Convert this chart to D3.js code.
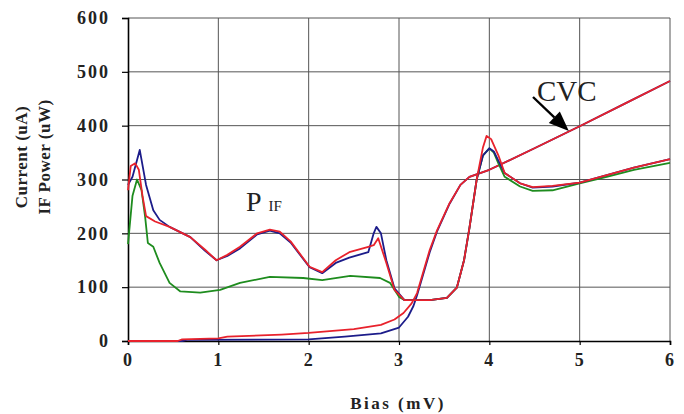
<!DOCTYPE html>
<html>
<head>
<meta charset="utf-8">
<script src="https://cdn.jsdelivr.net/npm/d3@7"></script>
<style>
  body { margin: 0; background: #fff; }
  text { font-family: "Liberation Serif", "DejaVu Serif", serif; }
</style>
</head>
<body>
<svg id="chart"></svg>
<script>
// IF power curves (uW) vs bias (mV)
const pifRedX = [0, 0.03, 0.08, 0.12, 0.16, 0.2, 0.3, 0.46, 0.69, 0.85, 0.98, 1.1, 1.24, 1.43, 1.57, 1.68, 1.8, 2.01, 2.15, 2.3, 2.45, 2.66, 2.72, 2.77, 2.86, 2.95, 3.06, 3.2, 3.34, 3.53, 3.64, 3.72, 3.78, 3.86, 3.93, 3.97, 4.02, 4.1, 4.17, 4.34, 4.48, 4.7, 5.0, 5.3, 5.6, 6.0];
const pifRed  = [280, 325, 330, 318, 270, 232, 222, 212, 193, 170, 150, 160, 175, 200, 207, 203, 185, 138, 128, 150, 165, 175, 178, 191, 145, 95, 76, 76, 76, 80, 99, 150, 210, 300, 360, 381, 375, 345, 312, 293, 286, 288, 294, 308, 322, 338];

const pifBlueX = [0, 0.05, 0.13, 0.2, 0.28, 0.35, 0.46, 0.69, 0.85, 0.98, 1.1, 1.24, 1.43, 1.57, 1.68, 1.8, 2.01, 2.15, 2.3, 2.45, 2.66, 2.72, 2.75, 2.8, 2.86, 2.95, 3.06, 3.2, 3.34, 3.53, 3.64, 3.72, 3.78, 3.86, 3.93, 4.0, 4.05, 4.1, 4.17, 4.34, 4.48, 4.7, 5.0, 5.3, 5.6, 6.0];
const pifBlue  = [290, 305, 355, 290, 243, 225, 212, 193, 168, 150, 158, 172, 198, 205, 200, 183, 137, 126, 145, 155, 165, 200, 212, 200, 150, 98, 76, 76, 76, 80, 99, 150, 210, 300, 345, 358, 352, 335, 312, 293, 285, 287, 294, 308, 322, 338];

const pifGreenX = [0, 0.05, 0.1, 0.15, 0.19, 0.22, 0.28, 0.35, 0.46, 0.58, 0.8, 1.02, 1.24, 1.57, 1.94, 2.15, 2.46, 2.79, 2.9, 3.0, 3.06, 3.2, 3.34, 3.53, 3.64, 3.72, 3.78, 3.86, 3.93, 4.0, 4.05, 4.1, 4.17, 4.34, 4.48, 4.7, 5.0, 5.3, 5.6, 6.0];
const pifGreen  = [180, 270, 300, 280, 230, 182, 175, 145, 108, 92, 90, 95, 108, 119, 117, 113, 121, 117, 108, 82, 76, 76, 76, 80, 99, 150, 210, 300, 345, 358, 350, 330, 305, 287, 279, 280, 293, 305, 318, 331];

// current-voltage curves (uA)
const cvcRedX = [0, 0.55, 0.6, 1.0, 1.1, 1.7, 2.0, 2.5, 2.8, 2.95, 3.05, 3.14, 3.2, 3.34, 3.42, 3.56, 3.68, 3.78, 4.0, 4.5, 5.0, 5.5, 6.0];
const cvcRed  = [0, 0, 3, 5, 8, 12, 15, 22, 30, 40, 52, 70, 89, 169, 205, 256, 290, 305, 318, 358, 399, 441, 483];

const cvcBlueX = [0, 0.6, 0.65, 2.0, 2.4, 2.8, 3.0, 3.1, 3.16, 3.2, 3.34, 3.42, 3.56, 3.68, 3.78, 4.0, 4.5, 5.0, 5.5, 6.0];
const cvcBlue  = [0, 0, 2, 3, 8, 14, 25, 45, 65, 85, 165, 203, 255, 290, 305, 318, 358, 399, 441, 483];

const xTicks = [0, 1, 2, 3, 4, 5, 6];
const yTicks = [0, 100, 200, 300, 400, 500, 600];

const w = 684, h = 414;
const margin = {left: 128, right: 14, top: 18, bottom: 73};

const svg = d3.select("#chart").attr("width", w).attr("height", h);

const x = d3.scaleLinear().domain([0, 6]).range([margin.left, w - margin.right]);
const y = d3.scaleLinear().domain([0, 600]).range([h - margin.bottom, margin.top]);

// grid
svg.append("g").selectAll("line").data(xTicks.slice(1)).enter().append("line")
  .attr("x1", d => x(d)).attr("x2", d => x(d))
  .attr("y1", y(0)).attr("y2", y(600))
  .attr("stroke", "#555").attr("stroke-width", 1);
svg.append("g").selectAll("line").data(yTicks.slice(1)).enter().append("line")
  .attr("x1", x(0)).attr("x2", x(6))
  .attr("y1", d => y(d)).attr("y2", d => y(d))
  .attr("stroke", "#555").attr("stroke-width", 1);

// axes
const xAxis = svg.append("g")
  .attr("transform", "translate(0," + y(0) + ")")
  .call(d3.axisBottom(x).tickValues(xTicks).tickSize(4).tickPadding(8).tickFormat(d3.format("d")));
const yAxis = svg.append("g")
  .attr("transform", "translate(" + x(0) + ",0)")
  .call(d3.axisLeft(y).tickValues(yTicks).tickSize(6).tickPadding(12).tickFormat(d3.format("d")));

[xAxis, yAxis].forEach(a => {
  a.select(".domain").attr("stroke", "#000").attr("stroke-width", 1.6);
  a.selectAll(".tick line").attr("stroke", "#000").attr("stroke-width", 1.2);
  a.selectAll("text")
    .attr("font-family", "'Liberation Serif', serif")
    .attr("font-weight", "bold")
    .attr("font-size", 18)
    .attr("letter-spacing", 2)
    .attr("fill", "#222");
});

// curves
const line = d3.line().x(d => x(d[0])).y(d => y(d[1]));
const zip = (xs, ys) => xs.map((v, i) => [v, ys[i]]);

const series = [
  {xs: cvcBlueX, ys: cvcBlue, color: "#1c1c8a"},
  {xs: cvcRedX, ys: cvcRed, color: "#e8222c"},
  {xs: pifGreenX, ys: pifGreen, color: "#1e8c1e"},
  {xs: pifBlueX, ys: pifBlue, color: "#1c1c8a"},
  {xs: pifRedX, ys: pifRed, color: "#e8222c"}
];

svg.append("g").selectAll("path").data(series).enter().append("path")
  .attr("d", d => line(zip(d.xs, d.ys)))
  .attr("fill", "none")
  .attr("stroke", d => d.color)
  .attr("stroke-width", 1.8)
  .attr("stroke-linejoin", "round");

// axis titles
svg.append("text")
  .attr("transform", "translate(27,157) rotate(-90)")
  .attr("text-anchor", "middle")
  .attr("font-weight", "bold").attr("font-size", 17).attr("letter-spacing", 0.5)
  .attr("fill", "#222")
  .text("Current (uA)");
svg.append("text")
  .attr("transform", "translate(50,157) rotate(-90)")
  .attr("text-anchor", "middle")
  .attr("font-weight", "bold").attr("font-size", 17).attr("letter-spacing", 0.5)
  .attr("fill", "#222")
  .text("IF Power (uW)");
svg.append("text")
  .attr("x", 398).attr("y", 409)
  .attr("text-anchor", "middle")
  .attr("font-weight", "bold").attr("font-size", 17).attr("letter-spacing", 2.5)
  .attr("fill", "#222")
  .text("Bias (mV)");

// annotations
const pif = svg.append("text").attr("x", 246).attr("y", 211).attr("fill", "#222");
pif.append("tspan").attr("font-size", 28).text("P");
pif.append("tspan").attr("font-size", 15).attr("dx", 7).text("IF");

svg.append("text")
  .attr("x", 537).attr("y", 101)
  .attr("font-size", 29).attr("fill", "#222")
  .text("CVC");

// arrow pointing at the CVC curve
const ax0 = 533, ay0 = 97;
const ax1 = x(4.88), ay1 = y(390);
const ang = Math.atan2(ay1 - ay0, ax1 - ax0);
const headLen = 20, headHalf = 8;
const bx = ax1 - headLen * Math.cos(ang), by = ay1 - headLen * Math.sin(ang);

svg.append("line")
  .attr("x1", ax0).attr("y1", ay0)
  .attr("x2", bx).attr("y2", by)
  .attr("stroke", "#000").attr("stroke-width", 2.4);

svg.append("path")
  .attr("d", "M" + ax1 + "," + ay1 +
             "L" + (bx + headHalf * Math.sin(ang)) + "," + (by - headHalf * Math.cos(ang)) +
             "L" + (bx - headHalf * Math.sin(ang)) + "," + (by + headHalf * Math.cos(ang)) + "Z")
  .attr("fill", "#000");
</script>
</body>
</html>
